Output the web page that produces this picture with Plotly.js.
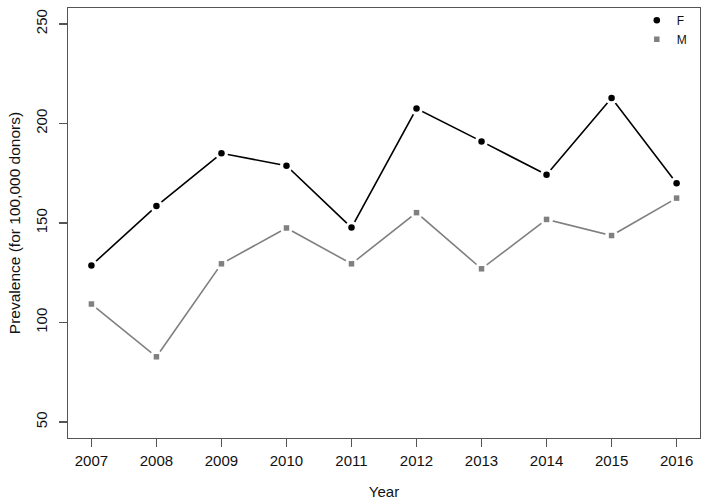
<!DOCTYPE html>
<html>
<head>
<meta charset="utf-8">
<script src="https://cdn.plot.ly/plotly-3.0.1.min.js"></script>
<style>
  body { margin: 0; background: #fff; }
  #grafico { width: 708px; height: 504px; }
</style>
</head>
<body>
<div id="grafico"></div>
<script>
let anios = [2007, 2008, 2009, 2010, 2011, 2012, 2013, 2014, 2015, 2016];
let valoresF = [128.7, 158.5, 185, 178.8, 147.7, 207.5, 191, 174.2, 212.8, 170];
let valoresM = [109.3, 82.8, 129.5, 147.5, 129.5, 155.2, 127, 151.8, 143.7, 162.5];
let ticksY = [50, 100, 150, 200, 250];

let colorF = '#000000';
let colorM = '#808080';

// lineas (sin leyenda)
let lineaF = {
	x: anios, y: valoresF, type: 'scatter', mode: 'lines',
	line: {color: colorF, width: 1.6}, showlegend: false, hoverinfo: 'skip'
};
let lineaM = {
	x: anios, y: valoresM, type: 'scatter', mode: 'lines',
	line: {color: colorM, width: 1.6}, showlegend: false, hoverinfo: 'skip'
};
// huecos blancos alrededor de los puntos, como type="b" en R
let huecoF = {
	x: anios, y: valoresF, type: 'scatter', mode: 'markers',
	marker: {color: '#ffffff', size: 13, symbol: 'circle'}, showlegend: false, hoverinfo: 'skip'
};
let huecoM = {
	x: anios, y: valoresM, type: 'scatter', mode: 'markers',
	marker: {color: '#ffffff', size: 13, symbol: 'circle'}, showlegend: false, hoverinfo: 'skip'
};
let puntosF = {
	x: anios, y: valoresF, type: 'scatter', mode: 'markers', name: 'F',
	marker: {color: colorF, size: 6.5, symbol: 'circle'}
};
let puntosM = {
	x: anios, y: valoresM, type: 'scatter', mode: 'markers', name: 'M',
	marker: {color: colorM, size: 5.5, symbol: 'square'}
};

let colorEje = '#555555';
let layout = {
	width: 708,
	height: 504,
	margin: {l: 68, r: 8, t: 6, b: 66},
	paper_bgcolor: '#ffffff',
	plot_bgcolor: '#ffffff',
	font: {family: 'Liberation Sans, Arial, sans-serif', size: 15, color: '#111111'},
	xaxis: {
		range: [2006.64, 2016.36],
		tickvals: anios,
		ticktext: anios.map(String),
		ticks: 'outside', ticklen: 8, tickwidth: 1.2, tickcolor: colorEje,
		ticklabelstandoff: 1,
		showline: true, linecolor: colorEje, linewidth: 1.2, mirror: true,
		showgrid: false, zeroline: false,
		title: {text: 'Year', standoff: 18, font: {size: 15}}
	},
	yaxis: {
		range: [42, 258],
		tickvals: ticksY,
		ticks: 'outside', ticklen: 8, tickwidth: 1.2, tickcolor: colorEje,
		tickangle: -90,
		ticklabelstandoff: 6,
		showline: true, linecolor: colorEje, linewidth: 1.2, mirror: true,
		showgrid: false, zeroline: false,
		title: {text: 'Prevalence (for 100,000 donors)', standoff: 8, font: {size: 15.5}}
	},
	legend: {
		x: 0.9, y: 1.005, xanchor: 'left', yanchor: 'top',
		bgcolor: 'rgba(0,0,0,0)', font: {size: 12},
		tracegroupgap: 0
	}
};

let contenedor = document.getElementById('grafico');
Plotly.newPlot(contenedor, [lineaF, lineaM, huecoF, huecoM, puntosF, puntosM], layout, {displayModeBar: false, staticPlot: true});
</script>
</body>
</html>
